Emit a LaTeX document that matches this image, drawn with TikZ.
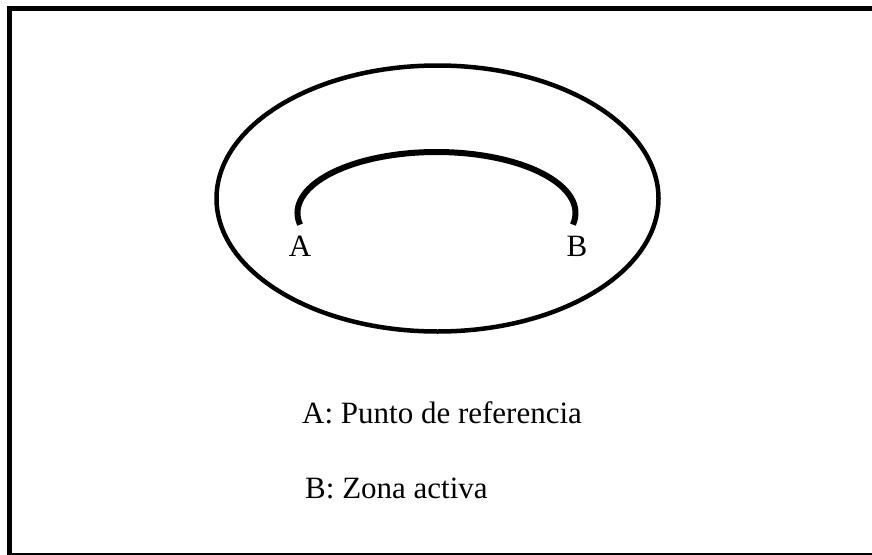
\documentclass[tikz,border=0pt]{standalone}
\usepackage{fontspec}
\setmainfont{Liberation Serif}
\begin{document}
\begin{tikzpicture}[x=1pt,y=-1pt,
  lbl/.style={inner sep=0pt,anchor=base west,font=\fontsize{31}{34}\selectfont},
  frame/.style={line width=5pt},
  ring/.style={line width=4.5pt},
  band/.style={line width=6pt}]
\useasboundingbox (0,0) rectangle (872,554);
\clip (0,0) rectangle (872,554);
\draw[frame] (9.3,8.5) rectangle (900,555);
\draw[ring] (437.5,198.5) ellipse [x radius=221, y radius=133];
\coordinate (c) at (436.5,213);
\draw[band] ([shift={(169:139 and 61)}]c) coordinate (aend)
  arc [start angle=169, end angle=371, x radius=139, y radius=61] coordinate (bend);
\node[lbl,anchor=base] (A) at (300,256) {A};
\node[lbl,anchor=base] (B) at (577,256) {B};
\node[lbl] (la) at (302,423) {A: Punto de referencia};
\node[lbl] (lb) at (305,498) {B: Zona activa};
\end{tikzpicture}
\end{document}
